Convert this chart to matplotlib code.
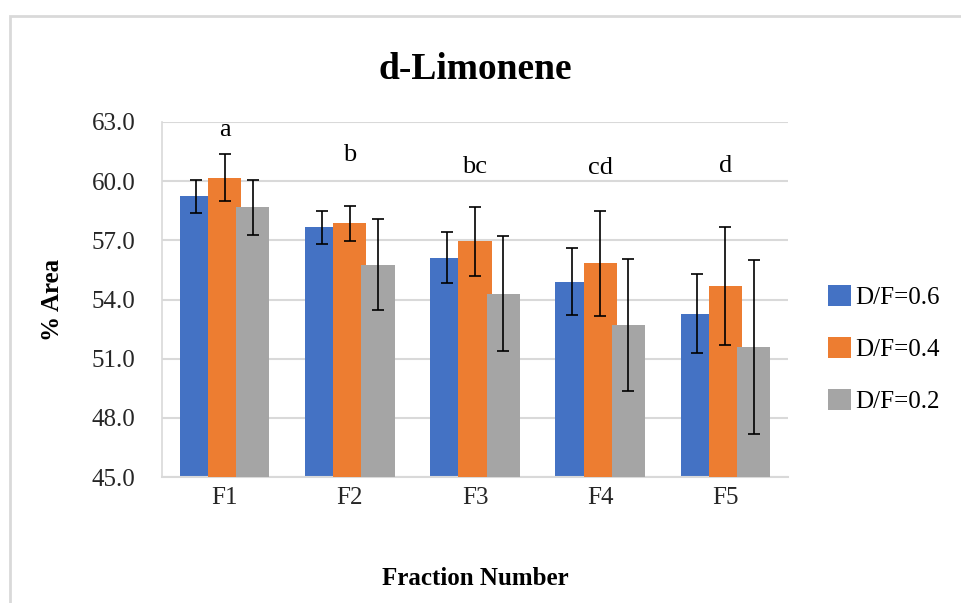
import numpy as np
import matplotlib.pyplot as plt
from matplotlib.patches import Rectangle

plt.rcParams['font.family'] = ['Liberation Serif', 'DejaVu Serif']

fractions = ['F1', 'F2', 'F3', 'F4', 'F5']
series = ['D/F=0.6', 'D/F=0.4', 'D/F=0.2']
df06 = [59.23, 57.66, 56.12, 54.91, 53.28]
df04 = [60.18, 57.86, 56.95, 55.83, 54.70]
df02 = [58.67, 55.77, 54.30, 52.72, 51.58]
err06 = [0.85, 0.85, 1.30, 1.70, 2.00]
err04 = [1.20, 0.90, 1.75, 2.65, 3.00]
err02 = [1.40, 2.30, 2.90, 3.35, 4.40]
letters = ['a', 'b', 'bc', 'cd', 'd']
letter_y = [62.6, 61.35, 60.7, 60.65, 60.75]

colors = ['#4472c4', '#ed7d31', '#a5a5a5']

fig = plt.figure(figsize=(9.61, 6.03), dpi=100)
# outer chart frame
fig.patches.append(Rectangle((10 / 961, -0.01), 1.0, 1 - 16 / 603 + 0.01,
                             transform=fig.transFigure, fill=False,
                             edgecolor='#d9d9d9', linewidth=2))

ax = fig.add_axes([162 / 961, 1 - 477 / 603, (788 - 162) / 961, (477 - 122) / 603])

x = np.arange(len(fractions))
w = 0.265
step = 0.225
data = [(df06, err06), (df04, err04), (df02, err02)]
for i, (vals, errs) in enumerate(data):
    ax.bar(x + (i - 1) * step, vals, width=w, color=colors[i],
           label=series[i], zorder=2 + i)
for i, (vals, errs) in enumerate(data):
    ax.errorbar(x + (i - 1) * step, vals, yerr=errs, fmt='none', ecolor='black',
                elinewidth=1.2, capsize=4.5, capthick=1.2, zorder=6)

for xi, t, yi in zip(x, letters, letter_y):
    ax.text(xi, yi, t, ha='center', va='center', fontsize=19)

ticks = np.arange(45, 63.1, 3)
ax.set_ylim(45, 63)
ax.set_xlim(-0.5, 4.5)
ax.set_yticks(ticks)
ax.set_yticklabels([f'{v:.1f}' for v in ticks])
ax.set_xticks(x)
ax.set_xticklabels(fractions)
ax.tick_params(axis='both', length=0, labelsize=18, colors='#262626')
ax.tick_params(axis='y', pad=19)
ax.tick_params(axis='x', pad=7)
ax.grid(axis='y', color='#d9d9d9', linewidth=1.5, zorder=0)
ax.set_axisbelow(True)
for s in ['top', 'right']:
    ax.spines[s].set_visible(False)
ax.spines['left'].set_color('#d9d9d9')
ax.spines['bottom'].set_color('#d9d9d9')
ax.spines['left'].set_linewidth(1.2)
ax.spines['bottom'].set_linewidth(1.5)

ax.set_title('d-Limonene', fontsize=27, fontweight='bold', pad=31)
ax.set_ylabel('% Area', fontsize=18, fontweight='bold', labelpad=20)
ax.set_xlabel('Fraction Number', fontsize=18, fontweight='bold', labelpad=42)

ax.legend(loc='center left', bbox_to_anchor=(1.064, 0.36), frameon=False,
          borderpad=0, borderaxespad=0,
          fontsize=18, handlelength=0.9, handleheight=0.9, handletextpad=0.2,
          labelspacing=1.12)

fig.savefig('out.png', dpi=100)
